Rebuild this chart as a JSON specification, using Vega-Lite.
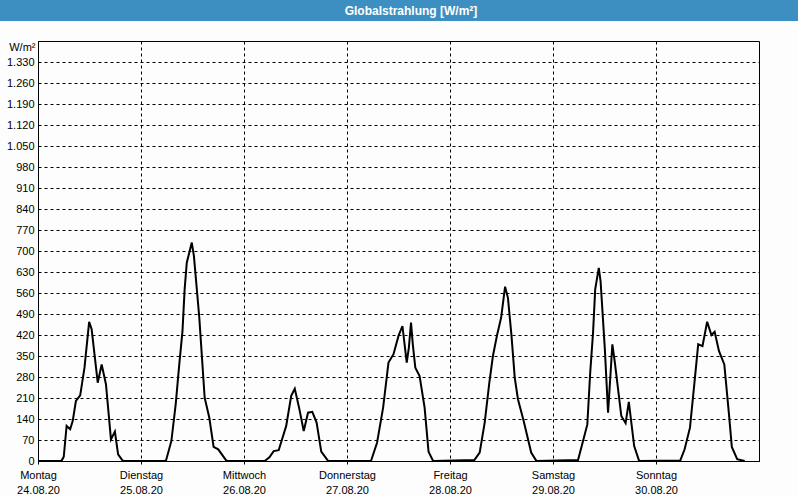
{
  "$schema": "https://vega.github.io/schema/vega-lite/v6.json",
  "background": "#fcfdfc",
  "padding": 0,
  "spacing": 19,
  "config": {"view": {"stroke": "black", "strokeWidth": 1}},
  "vconcat": [
    {
      "width": 760,
      "height": 21,
      "view": {"fill": "#3d8fc1", "stroke": null},
      "data": {"values": [{"label": "Globalstrahlung [W/m²]"}]},
      "mark": {"type": "text", "color": "white", "font": "Liberation Sans", "fontSize": 12, "fontWeight": "bold", "dx": -7, "baseline": "middle", "align": "center"},
      "encoding": {
        "text": {"field": "label"},
        "y": {"field": "label", "type": "nominal", "axis": {"title": null, "labels": false, "ticks": false, "grid": false, "domainWidth": 80, "domainColor": "#3d8fc1", "domainCap": "butt", "minExtent": 0, "translate": 0}}
      }
    },
    {
      "width": 721,
      "height": 420,
      "data": {"values": [
        {"t": "2020-08-24T00:00", "v": 0},
        {"t": "2020-08-24T05:20", "v": 0},
        {"t": "2020-08-24T05:35", "v": 3},
        {"t": "2020-08-24T06:00", "v": 14},
        {"t": "2020-08-24T06:40", "v": 117},
        {"t": "2020-08-24T07:30", "v": 106},
        {"t": "2020-08-24T08:05", "v": 133},
        {"t": "2020-08-24T08:50", "v": 200},
        {"t": "2020-08-24T09:50", "v": 219},
        {"t": "2020-08-24T10:50", "v": 311},
        {"t": "2020-08-24T11:55", "v": 464},
        {"t": "2020-08-24T12:30", "v": 439},
        {"t": "2020-08-24T13:55", "v": 261},
        {"t": "2020-08-24T14:50", "v": 322},
        {"t": "2020-08-24T15:50", "v": 256},
        {"t": "2020-08-24T17:00", "v": 72},
        {"t": "2020-08-24T17:55", "v": 98},
        {"t": "2020-08-24T18:40", "v": 22},
        {"t": "2020-08-24T19:40", "v": 2},
        {"t": "2020-08-24T20:00", "v": 0},
        {"t": "2020-08-25T05:30", "v": 0},
        {"t": "2020-08-25T05:50", "v": 2},
        {"t": "2020-08-25T07:05", "v": 67},
        {"t": "2020-08-25T08:05", "v": 189},
        {"t": "2020-08-25T08:55", "v": 322},
        {"t": "2020-08-25T09:40", "v": 433},
        {"t": "2020-08-25T10:10", "v": 572},
        {"t": "2020-08-25T10:40", "v": 661},
        {"t": "2020-08-25T11:50", "v": 728},
        {"t": "2020-08-25T12:20", "v": 683},
        {"t": "2020-08-25T13:35", "v": 478},
        {"t": "2020-08-25T14:50", "v": 211},
        {"t": "2020-08-25T15:55", "v": 144},
        {"t": "2020-08-25T16:55", "v": 47},
        {"t": "2020-08-25T18:00", "v": 39},
        {"t": "2020-08-25T19:50", "v": 2},
        {"t": "2020-08-25T20:10", "v": 0},
        {"t": "2020-08-26T04:50", "v": 0},
        {"t": "2020-08-26T05:55", "v": 12},
        {"t": "2020-08-26T06:55", "v": 33},
        {"t": "2020-08-26T08:05", "v": 36},
        {"t": "2020-08-26T09:50", "v": 117},
        {"t": "2020-08-26T11:00", "v": 217},
        {"t": "2020-08-26T11:50", "v": 241},
        {"t": "2020-08-26T12:55", "v": 172},
        {"t": "2020-08-26T13:55", "v": 100},
        {"t": "2020-08-26T14:55", "v": 161},
        {"t": "2020-08-26T15:55", "v": 164},
        {"t": "2020-08-26T16:55", "v": 128},
        {"t": "2020-08-26T18:00", "v": 31},
        {"t": "2020-08-26T19:30", "v": 2},
        {"t": "2020-08-26T19:45", "v": 0},
        {"t": "2020-08-27T05:35", "v": 0},
        {"t": "2020-08-27T07:00", "v": 61},
        {"t": "2020-08-27T08:25", "v": 178},
        {"t": "2020-08-27T09:40", "v": 328},
        {"t": "2020-08-27T10:50", "v": 356},
        {"t": "2020-08-27T12:00", "v": 417},
        {"t": "2020-08-27T12:55", "v": 450},
        {"t": "2020-08-27T13:55", "v": 328},
        {"t": "2020-08-27T14:25", "v": 378},
        {"t": "2020-08-27T14:55", "v": 461},
        {"t": "2020-08-27T15:20", "v": 389},
        {"t": "2020-08-27T15:55", "v": 311},
        {"t": "2020-08-27T16:55", "v": 283},
        {"t": "2020-08-27T18:05", "v": 178},
        {"t": "2020-08-27T19:00", "v": 31},
        {"t": "2020-08-27T20:00", "v": 2},
        {"t": "2020-08-27T20:15", "v": 0},
        {"t": "2020-08-28T05:40", "v": 3},
        {"t": "2020-08-28T06:55", "v": 28},
        {"t": "2020-08-28T08:05", "v": 128},
        {"t": "2020-08-28T09:10", "v": 261},
        {"t": "2020-08-28T10:00", "v": 350},
        {"t": "2020-08-28T11:00", "v": 422},
        {"t": "2020-08-28T11:55", "v": 478},
        {"t": "2020-08-28T12:50", "v": 581},
        {"t": "2020-08-28T13:30", "v": 544},
        {"t": "2020-08-28T14:20", "v": 417},
        {"t": "2020-08-28T15:05", "v": 278},
        {"t": "2020-08-28T15:50", "v": 206},
        {"t": "2020-08-28T17:10", "v": 133},
        {"t": "2020-08-28T18:55", "v": 28},
        {"t": "2020-08-28T20:00", "v": 3},
        {"t": "2020-08-28T20:15", "v": 0},
        {"t": "2020-08-29T05:50", "v": 3},
        {"t": "2020-08-29T07:00", "v": 67},
        {"t": "2020-08-29T08:00", "v": 122},
        {"t": "2020-08-29T08:40", "v": 294},
        {"t": "2020-08-29T09:20", "v": 428},
        {"t": "2020-08-29T09:50", "v": 572},
        {"t": "2020-08-29T10:40", "v": 644},
        {"t": "2020-08-29T11:05", "v": 600},
        {"t": "2020-08-29T12:05", "v": 372},
        {"t": "2020-08-29T12:50", "v": 161},
        {"t": "2020-08-29T13:50", "v": 389},
        {"t": "2020-08-29T14:25", "v": 328},
        {"t": "2020-08-29T15:55", "v": 150},
        {"t": "2020-08-29T16:55", "v": 126},
        {"t": "2020-08-29T17:40", "v": 197},
        {"t": "2020-08-29T18:55", "v": 50},
        {"t": "2020-08-29T20:00", "v": 3},
        {"t": "2020-08-29T20:15", "v": 0},
        {"t": "2020-08-30T05:40", "v": 2},
        {"t": "2020-08-30T06:40", "v": 39},
        {"t": "2020-08-30T07:55", "v": 111},
        {"t": "2020-08-30T09:00", "v": 267},
        {"t": "2020-08-30T09:50", "v": 389},
        {"t": "2020-08-30T10:50", "v": 383},
        {"t": "2020-08-30T11:55", "v": 464},
        {"t": "2020-08-30T12:55", "v": 420},
        {"t": "2020-08-30T13:40", "v": 431},
        {"t": "2020-08-30T14:40", "v": 367},
        {"t": "2020-08-30T15:55", "v": 322},
        {"t": "2020-08-30T17:00", "v": 156},
        {"t": "2020-08-30T17:40", "v": 47},
        {"t": "2020-08-30T18:55", "v": 6},
        {"t": "2020-08-30T20:40", "v": 0}
      ]},
      "mark": {"type": "line", "color": "black", "strokeWidth": 2, "clip": true},
      "encoding": {
        "x": {
          "field": "t",
          "type": "temporal",
          "scale": {"domain": [{"year": 2020, "month": 8, "date": 24}, {"year": 2020, "month": 8, "date": 31}]},
          "axis": {
            "title": null,
            "values": [
              {"year": 2020, "month": 8, "date": 24},
              {"year": 2020, "month": 8, "date": 25},
              {"year": 2020, "month": 8, "date": 26},
              {"year": 2020, "month": 8, "date": 27},
              {"year": 2020, "month": 8, "date": 28},
              {"year": 2020, "month": 8, "date": 29},
              {"year": 2020, "month": 8, "date": 30}
            ],
            "labelExpr": "[['Sonntag','Montag','Dienstag','Mittwoch','Donnerstag','Freitag','Samstag'][day(datum.value)], timeFormat(datum.value, '%d.%m.%y')]",
            "grid": true,
            "gridColor": "black",
            "gridDash": [3, 3],
            "gridOpacity": 1,
            "gridWidth": 1,
            "domainColor": "black",
            "domainWidth": 1,
            "ticks": true,
            "tickSize": 3,
            "tickColor": "black",
            "labelFont": "Liberation Sans",
            "labelFontSize": 11,
            "labelColor": "black",
            "labelPadding": 5,
            "labelLineHeight": 15,
            "labelBaseline": "top",
            "labelAlign": "center",
            "labelOverlap": false,
            "labelFlush": false,
            "labelBound": false
          }
        },
        "y": {
          "field": "v",
          "type": "quantitative",
          "scale": {"domain": [0, 1400], "nice": false},
          "axis": {
            "values": [0, 70, 140, 210, 280, 350, 420, 490, 560, 630, 700, 770, 840, 910, 980, 1050, 1120, 1190, 1260, 1330],
            "labelExpr": "replace(format(datum.value, ','), ',', '.')",
            "grid": true,
            "gridColor": "black",
            "gridDash": [3, 3],
            "gridOpacity": 1,
            "gridWidth": 1,
            "domainColor": "black",
            "domainWidth": 1,
            "ticks": false,
            "tickSize": 0,
            "labelFont": "Liberation Sans",
            "labelFontSize": 11,
            "labelColor": "black",
            "labelPadding": 4,
            "labelOverlap": false,
            "minExtent": 37,
            "title": "W/m²",
            "titleAngle": 0,
            "titleAlign": "right",
            "titleBaseline": "middle",
            "titleX": -3,
            "titleY": 6,
            "titleFont": "Liberation Sans",
            "titleFontSize": 11,
            "titleFontWeight": "normal",
            "titleColor": "black"
          }
        }
      }
    }
  ]
}
